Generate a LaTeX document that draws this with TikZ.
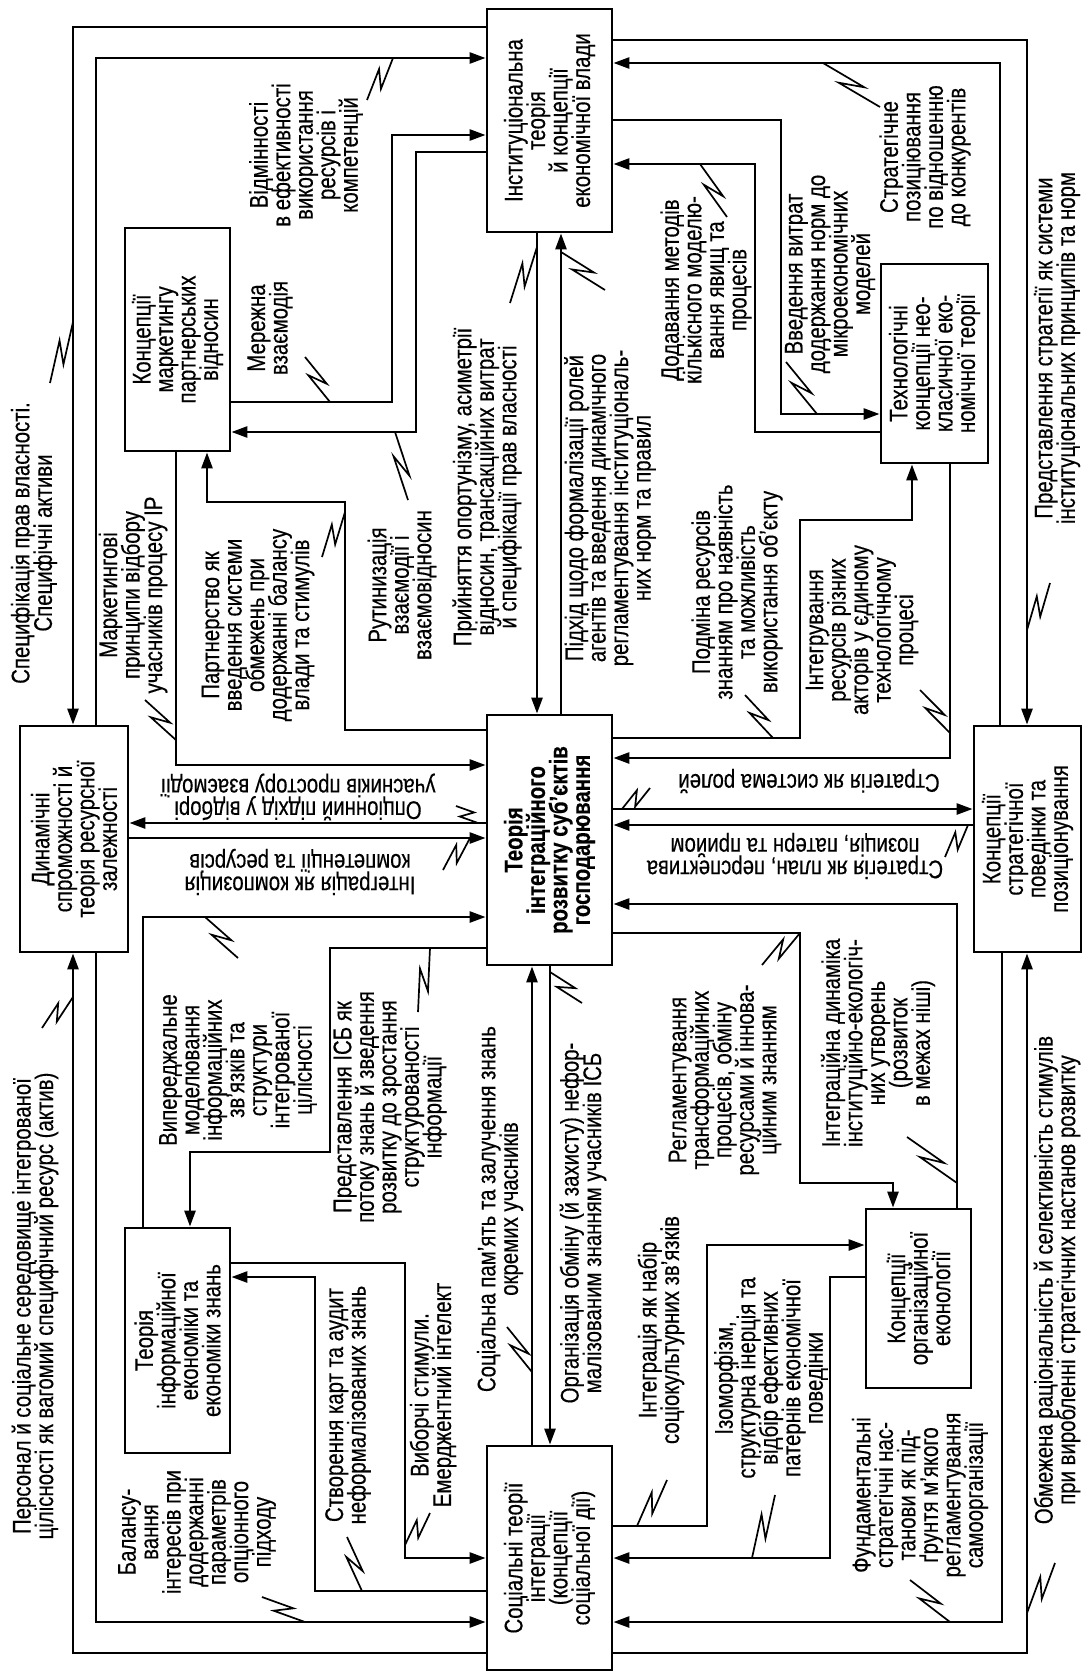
\documentclass[tikz,border=0pt]{standalone}
\usepackage{fontspec}
\setmainfont{Liberation Sans}[FakeStretch=0.8,FakeBold=0.4]
\usetikzlibrary{arrows.meta,calc}

\newcommand\fs{\fontsize{25.5}{22.5}\selectfont\lineskiplimit=-40pt\relax}

\tikzset{
  box/.style={draw,line width=2.8pt,inner sep=0pt},
  boxtext/.style={rotate=90,align=center,inner sep=0pt,font=\fs},
  lbl/.style={rotate=90,align=center,inner sep=0pt,font=\fs},
  lbldown/.style={rotate=180,align=center,inner sep=0pt,font=\fs},
  ln/.style={line width=2.6pt},
  arr/.style={line width=2.6pt,-{Triangle[length=16pt,width=11pt]}},
  zz/.style={line width=1.7pt,line join=miter},
  bolt/.style={to path={-- ($(\tikztostart)!.66!(\tikztotarget)!6pt!90:(\tikztotarget)$)
      -- ($(\tikztostart)!.34!(\tikztotarget)!6pt!-90:(\tikztotarget)$) -- (\tikztotarget)}}
}

\begin{document}
\begin{tikzpicture}[x=1pt,y=-1pt]
\useasboundingbox (0,0) rectangle (1087,1673);

%boxes
\node[box,minimum width=125pt,minimum height=223pt,label={[boxtext]center:{Інституціональна\\теорія\\й концепції\\економічної влади}}] (inst) at (549.5,120.5) {};
\node[box,minimum width=125pt,minimum height=250pt,label={[boxtext,font=\fs\bfseries]center:{Теорія\\інтеграційного\\розвитку суб’єктів\\господарювання}}] (cent) at (549.5,840) {};
\node[box,minimum width=125pt,minimum height=224pt,label={[boxtext]center:{Соціальні теорії\\інтеграції\\(концепції\\соціальної дії)}}] (soc) at (549.5,1558) {};
\node[box,minimum width=108pt,minimum height=226pt,label={[boxtext]center:{Динамічні\\спроможності й\\теорія ресурсної\\залежності}}] (dyn) at (74,839) {};
\node[box,minimum width=107pt,minimum height=226pt,label={[boxtext]center:{Концепції\\стратегічної\\поведінки та\\позиціонування}}] (strat) at (1027.5,839) {};
\node[box,minimum width=105pt,minimum height=223pt,label={[boxtext]center:{Концепції\\маркетингу\\партнерських\\відносин}}] (mkt) at (177.5,339.5) {};
\node[box,minimum width=107pt,minimum height=199pt,label={[boxtext]center:{Технологічні\\концепції нео-\\класичної еко-\\номічної теорії}}] (tech) at (934.5,363.5) {};
\node[box,minimum width=105pt,minimum height=225pt,label={[boxtext]center:{Теорія\\інформаційної\\економіки та\\економіки знань}}] (info) at (177.5,1340.5) {};
\node[box,minimum width=105pt,minimum height=179pt,label={[boxtext]center:{Концепції\\організаційної\\еконології}}] (org) at (918.5,1298.5) {};

%edges of the top box
\draw[arr] (inst.west |- 0,27) -| (73,0 |- dyn.north);
\draw[arr] (96,0 |- dyn.north) |- (inst.west |- 0,58);
\draw[arr] (mkt.east |- 0,402) -| (392,135) -- (inst.west |- 0,135);
\draw[arr] (inst.west |- 0,152) -| (416,432) -- (mkt.east |- 0,432);
\draw[arr] (537,0 |- inst.south) -- (537,0 |- cent.north);
\draw[arr] (561,0 |- cent.north) -- (561,0 |- inst.south);
\draw[arr] (inst.east |- 0,40) -| (1027,0 |- strat.north);
\draw[arr] (1000,0 |- strat.north) |- (inst.east |- 0,63);
\draw[arr] (inst.east |- 0,120) -| (781,414) -- (tech.west |- 0,414);
\draw[arr] (tech.west |- 0,432) -| (755,164) -- (inst.east |- 0,164);

%edges of the centre box
\draw[arr] (176,0 |- mkt.south) |- (cent.west |- 0,765);
\draw[arr] (cent.west |- 0,730) -| (345,502) -| (207,0 |- mkt.south);
\draw[arr] (cent.east |- 0,738) -| (800,520) -| (912,0 |- tech.south);
\draw[arr] (950,0 |- tech.south) |- (cent.east |- 0,758);
\draw[arr] (cent.west |- 0,823) -- (dyn.east |- 0,823);
\draw[arr] (dyn.east |- 0,838) -- (cent.west |- 0,838);
\draw[arr] (cent.east |- 0,809) -- (strat.west |- 0,809);
\draw[arr] (strat.west |- 0,825) -- (cent.east |- 0,825);
\draw[arr] (143,0 |- info.north) |- (cent.west |- 0,917);
\draw[arr] (cent.west |- 0,948) -| (330,1152) -| (190,0 |- info.north);
\draw[arr] (957,0 |- org.north) |- (cent.east |- 0,904);
\draw[arr] (cent.east |- 0,933) -| (800,1183) -| (893,0 |- org.north);
\draw[arr] (532,0 |- soc.north) -- (532,0 |- cent.south);
\draw[arr] (550,0 |- cent.south) -- (550,0 |- soc.north);

%edges of the bottom box
\draw[arr] (info.east |- 0,1263) -| (405,1558) -- (soc.west |- 0,1558);
\draw[arr] (soc.west |- 0,1591) -| (315,1277) -- (info.east |- 0,1277);
\draw[arr] (96,0 |- dyn.south) |- (soc.west |- 0,1622);
\draw[arr] (soc.west |- 0,1653) -| (73,0 |- dyn.south);
\draw[arr] (soc.east |- 0,1526) -| (707,1245) -- (org.west |- 0,1245);
\draw[arr] (org.west |- 0,1277) -| (830,1558) -- (soc.east |- 0,1558);
\draw[arr] (1002,0 |- strat.south) |- (soc.east |- 0,1622);
\draw[arr] (soc.east |- 0,1653) -| (1027,0 |- strat.south);

%labels
\node[lbl] (spec) at (34,543) {Специфікація прав власності.\\Специфічні активи};
\node[lbl] (vidm) at (306,155) {Відмінності\\в ефективності\\використання\\ресурсів і\\компетенцій};
\node[lbl] (merezh) at (270,328) {Мережна\\взаємодія};
\node[lbl] (rutyn) at (402,585) {Рутинизація\\взаємодії і\\взаємовідносин};
\node[lbl] (pryin) at (487,487) {Прийняття опортунізму, асиметрії\\відносин, трансакційних витрат\\й специфікації прав власності};
\node[lbl] (pidkhid) at (610,508) {Підхід щодо формалізації ролей\\агентів та введення динамічного\\регламентування інституціональ-\\них норм та правил};
\node[lbl] (dodav) at (706,290) {Додавання методів\\кількісного моделю-\\вання явищ та\\процесів};
\node[lbl] (vveden) at (830,274) {Введення витрат\\додержання норм до\\мікроекономічних\\моделей};
\node[lbl] (stratpoz) at (925,157) {Стратегічне\\позиціювання\\по відношенню\\до конкурентів};
\node[lbl] (predst) at (1057,348) {Представлення стратегії як системи\\інституціональних принципів та норм};
\node[lbl] (market) at (133,595) {Маркетингові\\принципи відбору\\учасників процесу ІР};
\node[lbl] (partn) at (258,625) {Партнерство як\\введення системи\\обмежень при\\додержанні балансу\\влади та стимулів};
\node[lbl] (podmina) at (737,592) {Подміна ресурсів\\знанням про наявність\\та можливість\\використання об’єкту};
\node[lbl] (integruv) at (862,630) {Інтегрування\\ресурсів різних\\акторів у єдиному\\технологічному\\процесі};
\node[lbldown] (opts) at (298,797) {Опціонний підхід у відборі\\учасників простору взаємодії};
\node[lbldown] (integkomp) at (300,872) {Інтеграція як композиція\\компетенції та ресурсів};
\node[lbldown] (stratrol) at (809,781) {Стратегія як система ролей};
\node[lbldown] (stratplan) at (795,856) {Стратегія як план, перспектива\\позиція, патерн та прийом};
\node[lbl] (vyper) at (238,1070) {Випереджальне\\моделювання\\інформаційних\\зв’язків та\\структури\\інтегрованої\\цілісності};
\node[lbl] (predisb) at (390,1107) {Представлення ІСБ як\\потоку знань й зведення\\розвитку до зростання\\структурованості\\інформації};
\node[lbl] (sotspam) at (500,1209) {Соціальна пам’ять та залучення знань\\окремих учасників};
\node[lbl] (orgobm) at (583,1223) {Організація обміну (й захисту) нефор-\\малізованим знанням учасників ІСБ};
\node[lbl] (regl) at (725,1080) {Регламентування\\трансформаційних\\процесів, обміну\\ресурсами й іннова-\\ційним знанням};
\node[lbl] (integdyn) at (878,1043) {Інтеграційна динаміка\\інституційно-екологіч-\\них утворень\\(розвиток\\в межах ніші)};
\node[lbl] (viborchi) at (433,1395) {Виборчі стимули.\\Емерджентний інтелект};
\node[lbl] (stvor) at (348,1405) {Створення карт та аудит\\неформалізованих знань};
\node[lbl] (balans) at (197,1532) {Балансу-\\вання\\інтересів при\\додержанні\\параметрів\\опціонного\\підходу};
\node[lbl] (personal) at (35,1306) {Персонал й соціальне середовище інтегрованої\\цілісності як вагомий специфічний ресурс (актив)};
\node[lbl] (integnab) at (661,1330) {Інтеграція як набір\\соціокультурних зв’язків};
\node[lbl] (izomorf) at (771,1378) {Ізоморфізм,\\структурна інерція та\\відбір ефективних\\патернів економічної\\поведінки};
\node[lbl] (fundam) at (920,1495) {Фундаментальні\\стратегічні нас-\\танови як під-\\ґрунтя м’якого\\регламентування\\самоорганізації};
\node[lbl] (obmezh) at (1057,1280) {Обмежена раціональність й селективність стимулів\\при виробленні стратегічних настанов розвитку};

%bolts
\draw[zz] (50,383) to[bolt] (73,322);
\draw[zz] (367,100) to[bolt] (393,58);
\draw[zz] (305,357) to[bolt] (330,402);
\draw[zz] (408,500) to[bolt] (395,432);
\draw[zz] (510,303) to[bolt] (537,247);
\draw[zz] (605,290) to[bolt] (561,252);
\draw[zz] (727,217) to[bolt] (700,164);
\draw[zz] (786,362) to[bolt] (817,414);
\draw[zz] (880,107) to[bolt] (823,63);
\draw[zz] (1050,583) to[bolt] (1027,630);
\draw[zz] (145,700) to[bolt] (176,740);
\draw[zz] (322,557) to[bolt] (345,512);
\draw[zz] (745,695) to[bolt] (773,738);
\draw[zz] (920,690) to[bolt] (950,733);
\draw[zz] (456,806) to[bolt] (478,823);
\draw[zz] (443,870) to[bolt] (470,838);
\draw[zz] (650,788) to[bolt] (622,809);
\draw[zz] (945,857) to[bolt] (968,825);
\draw[zz] (238,958) to[bolt] (205,917);
\draw[zz] (418,1012) to[bolt] (430,948);
\draw[zz] (507,1327) to[bolt] (532,1372);
\draw[zz] (582,1003) to[bolt] (550,972);
\draw[zz] (762,965) to[bolt] (800,933);
\draw[zz] (907,1137) to[bolt] (957,1183);
\draw[zz] (430,1513) to[bolt] (405,1545);
\draw[zz] (347,1537) to[bolt] (362,1591);
\draw[zz] (262,1597) to[bolt] (305,1622);
\draw[zz] (42,1028) to[bolt] (73,997);
\draw[zz] (667,1480) to[bolt] (637,1526);
\draw[zz] (775,1495) to[bolt] (752,1558);
\draw[zz] (910,1580) to[bolt] (950,1622);
\draw[zz] (1055,1563) to[bolt] (1027,1613);
\end{tikzpicture}
\end{document}
